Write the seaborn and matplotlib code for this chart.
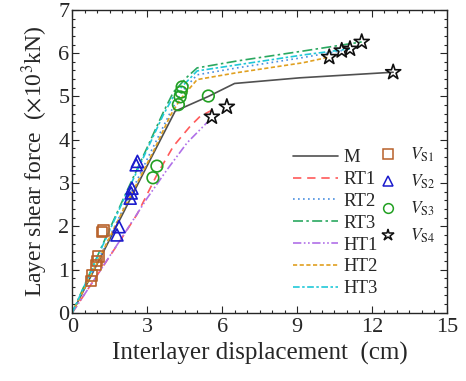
import matplotlib
matplotlib.use("Agg")
import matplotlib.pyplot as plt
from matplotlib.lines import Line2D
from matplotlib.ticker import MultipleLocator
import seaborn as sns

sns.set_style("ticks")
plt.rcParams["font.family"] = ["Liberation Serif", "DejaVu Serif"]
plt.rcParams["mathtext.fontset"] = "stix"

# kurvor (förskjutning cm, skjuvkraft x10^3 kN)
m_x = [0, 1, 2, 3, 4.12, 5.45, 6.5, 9.1, 12.85]
m_y = [0, 1.13, 2.26, 3.4, 4.66, 5.0, 5.3, 5.43, 5.56]
rt1_x = [0, 1, 2, 2.6, 3.4, 4.05, 4.72, 5.12, 5.65]
rt1_y = [0, 0.87, 1.74, 2.28, 3.2, 3.85, 4.31, 4.54, 4.7]
rt2_x = [0, 1, 2, 3, 3.9, 4.4, 5.0, 6.6, 9.25, 10.79]
rt2_y = [0, 1.17, 2.35, 3.55, 4.6, 5.12, 5.5, 5.66, 5.9, 6.06]
rt3_x = [0, 1, 2.05, 3.0, 3.65, 4.05, 4.6, 5.0, 6.6, 9.25, 11.59]
rt3_y = [0, 1.3, 2.64, 3.82, 4.64, 5.1, 5.45, 5.66, 5.82, 6.05, 6.26]
ht1_x = [0, 1, 2, 3, 3.8, 4.6, 5.25, 5.4]
ht1_y = [0, 0.87, 1.75, 2.65, 3.31, 3.93, 4.31, 4.4]
ht2_x = [0, 1, 2, 3.25, 3.92, 4.32, 5.0, 6.6, 9.25, 10.29]
ht2_y = [0, 1.16, 2.33, 3.73, 4.55, 4.93, 5.39, 5.55, 5.78, 5.91]
ht3_x = [0, 1, 2.05, 3.65, 4.1, 4.6, 5.0, 6.6, 9.25, 11.12]
ht3_y = [0, 1.28, 2.6, 4.58, 5.05, 5.35, 5.59, 5.73, 5.96, 6.1]

# punkter
vs1_x = [0.75, 0.8, 0.95, 1.0, 1.05, 1.2, 1.25]
vs1_y = [0.74, 0.86, 1.1, 1.2, 1.3, 1.86, 1.9]
vs2_x = [1.79, 1.87, 2.32, 2.36, 2.39, 2.56, 2.61]
vs2_y = [1.8, 1.99, 2.65, 2.77, 2.88, 3.42, 3.5]
vs3_x = [3.23, 3.39, 4.25, 4.32, 4.36, 4.4, 5.45]
vs3_y = [3.12, 3.39, 4.81, 4.99, 5.1, 5.22, 5.01]
vs4_x = [5.59, 6.19, 10.29, 10.79, 11.12, 11.59, 12.85]
vs4_y = [4.53, 4.76, 5.91, 6.06, 6.1, 6.26, 5.56]

fig, ax = plt.subplots(figsize=(4.66, 3.81), dpi=100)
fig.subplots_adjust(left=0.155, right=0.959, bottom=0.179, top=0.974)

lines = [
    ("M", m_x, m_y, "#505050", "-"),
    ("RT1", rt1_x, rt1_y, "#ff5a5a", (0, (5, 3.5))),
    ("RT2", rt2_x, rt2_y, "#4a8fe0", (0, (1, 2))),
    ("RT3", rt3_x, rt3_y, "#2aa860", (0, (6, 2, 1.5, 2))),
    ("HT1", ht1_x, ht1_y, "#b070e8", (0, (5, 1.5, 1, 1.5, 1, 1.5))),
    ("HT2", ht2_x, ht2_y, "#e0a020", (0, (2.5, 1.5))),
    ("HT3", ht3_x, ht3_y, "#20c8d8", (0, (4, 1.5, 1.5, 1.5))),
]
handles1 = []
for name, xs, ys, c, ls in lines:
    sns.lineplot(x=xs, y=ys, color=c, linestyle=ls, lw=1.2, sort=False,
                 estimator=None, ax=ax)
    handles1.append(Line2D([], [], color=c, linestyle=ls, lw=1.2, label=name))

pts = [
    (r"$V_{\rm S1}$", vs1_x, vs1_y, "s", "#b8612a", 55),
    (r"$V_{\rm S2}$", vs2_x, vs2_y, "^", "#1a1acd", 75),
    (r"$V_{\rm S3}$", vs3_x, vs3_y, "o", "#22a022", 70),
    (r"$V_{\rm S4}$", vs4_x, vs4_y, "*", "#101010", 130),
]
handles2 = []
for name, xs, ys, mk, c, s in pts:
    sns.scatterplot(x=xs, y=ys, marker=mk, s=s, facecolor="none",
                    edgecolor=c, linewidth=1.2, ax=ax, zorder=5)
    handles2.append(Line2D([], [], marker=mk, ls="none", mfc="none", mec=c,
                           mew=1.1, ms=7 if mk != "*" else 9, label=name))

ax.set_xlim(0, 15)
ax.set_ylim(0, 7)
ax.xaxis.set_major_locator(MultipleLocator(3))
ax.xaxis.set_minor_locator(MultipleLocator(0.5))
ax.yaxis.set_major_locator(MultipleLocator(1))
ax.yaxis.set_minor_locator(MultipleLocator(0.2))
ax.tick_params(which="both", direction="in", top=True, right=True,
               labelsize=16, width=0.8)
ax.tick_params(which="major", length=5)
ax.tick_params(axis="x", which="major", pad=4)
ax.tick_params(axis="y", which="major", pad=2)
ax.tick_params(which="minor", length=2.5)
for sp in ax.spines.values():
    sp.set_linewidth(1.0)

ax.set_xlabel("Interlayer displacement  (cm)", fontsize=18, labelpad=3)
ax.set_ylabel(r"Layer shear force  ($\times$10$^3$kN)", fontsize=17, labelpad=6)

leg1 = ax.legend(handles=handles1, loc="upper left", bbox_to_anchor=(0.57, 0.565),
                 frameon=False, fontsize=13.5, handlelength=2.4, handletextpad=0.3,
                 labelspacing=0.25, borderaxespad=0)
ax.add_artist(leg1)
ax.legend(handles=handles2, loc="upper left", bbox_to_anchor=(0.8, 0.575),
          frameon=False, fontsize=12.5, handlelength=1.0, handletextpad=0.8,
          labelspacing=0.5, borderaxespad=0)

plt.savefig("out.png", dpi=100)
